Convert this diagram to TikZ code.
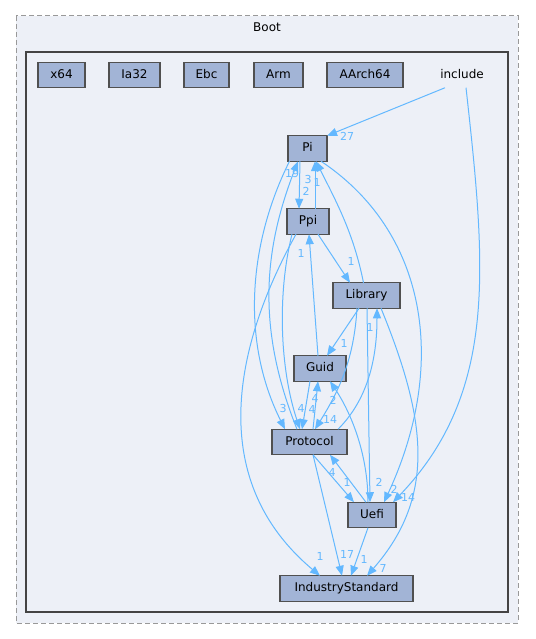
\documentclass[tikz,border=0pt]{standalone}
\usepackage{fontspec}
\setmainfont{DejaVu Sans}
\usetikzlibrary{arrows.meta}
\definecolor{dirfill}{HTML}{A2B4D6}
\definecolor{dirdraw}{HTML}{505050}
\definecolor{clusterfill}{HTML}{EDF0F7}
\definecolor{framegray}{HTML}{444444}
\definecolor{dashgray}{HTML}{999999}
\definecolor{depblue}{HTML}{63B8FF}
\begin{document}
\begin{tikzpicture}[x=1pt,y=-1pt,inner sep=0pt,outer sep=0pt,
dirbox/.style={draw=dirdraw,fill=dirfill,rectangle,line width=1.2pt,minimum height=25.5pt,text height=8.8pt,text depth=2.5pt,font=\fontsize{12}{14}\selectfont},
dirtext/.style={rectangle,minimum height=25.5pt,text height=8.8pt,text depth=2.5pt,font=\fontsize{12}{14}\selectfont},
dep/.style={draw=depblue,line width=1pt,-{Triangle[length=10pt,width=8pt]}},
deplbl/.style={text=depblue,font=\fontsize{11}{13}\selectfont}]

\useasboundingbox (0,0) rectangle (535,639);
\draw[dashgray,fill=clusterfill,line width=1pt,dash pattern=on 5pt off 3pt] (16,16) rectangle (518,623);
\draw (267,28) node[dirtext,minimum height=0pt] (boot) {Boot};
\draw[framegray,fill=clusterfill,line width=2pt] (26,52) rectangle (508,612);

\draw (61.5,75) node[dirbox,minimum width=47pt] (x64) {x64};
\draw (134.5,75) node[dirbox,minimum width=51pt] (ia32) {Ia32};
\draw (206.5,75) node[dirbox,minimum width=45pt] (ebc) {Ebc};
\draw (278.5,75) node[dirbox,minimum width=49pt] (arm) {Arm};
\draw (365,75) node[dirbox,minimum width=76pt] (aarch64) {AArch64};
\draw (462,75) node[dirtext] (include) {include};
\draw (307.5,148.5) node[dirbox,minimum width=39pt] (pi) {Pi};
\draw (308,221.5) node[dirbox,minimum width=42pt] (ppi) {Ppi};
\draw (366.5,295.5) node[dirbox,minimum width=67pt] (library) {Library};
\draw (320,368.5) node[dirbox,minimum width=52pt] (guid) {Guid};
\draw (309.5,442) node[dirbox,minimum width=75pt] (protocol) {Protocol};
\draw (372,515) node[dirbox,minimum width=48pt] (uefi) {Uefi};
\draw (346.5,588.5) node[dirbox,minimum width=133pt] (industry) {IndustryStandard};

\draw[dep] ([xshift=-17pt]include.south) -- (pi.north east) node[deplbl,shift={(20,1)}] {27};
\draw[dep] ([xshift=4pt]include.south) .. controls +(20,180) and +(105,-110) .. ([xshift=21pt]uefi.north) node[deplbl,shift={(15,-5)}] {14};

\draw[dep] ([xshift=-7.5pt]pi.south) -- ([xshift=-9pt]ppi.north) node[deplbl,shift={(7,-17)}] {2};
\draw[dep] ([xshift=1.5pt]pi.south west) .. controls +(-40,80) and +(-45,-90) .. ([xshift=13pt]protocol.north west) node[deplbl,shift={(-2,-21)}] {3};
\draw[dep] ([xshift=13.5pt]pi.south) .. controls +(105,70) and +(65,-140) .. ([xshift=12pt]uefi.north) node[deplbl,shift={(10,-13)}] {2};

\draw[dep] ([xshift=7pt]ppi.north) -- ([xshift=7.5pt]pi.south) node[deplbl,shift={(-7,18)}] {3};
\draw[dep] ([xshift=10pt]ppi.south) -- ([xshift=-16.5pt]library.north) node[deplbl,shift={(1,-21)}] {1};
\draw[dep] ([xshift=-16pt]ppi.south) .. controls +(-15,60) and +(-20,-60) .. ([xshift=-9.5pt]protocol.north) node[deplbl,shift={(1,-21)}] {4};
\draw[dep] ([xshift=-12pt]ppi.south) .. controls +(-50,90) and +(-125,-105) .. ([xshift=-26.5pt]industry.north) node[deplbl,shift={(0,-19)}] {1};

\draw[dep] ([xshift=-3pt]library.north) .. controls +(-10,-50) and +(20,40) .. ([xshift=8.5pt]pi.south) node[deplbl,shift={(1,21)}] {1};
\draw[dep] ([xshift=-7.5pt]library.south) -- ([xshift=7pt]guid.north) node[deplbl,shift={(17,-12)}] {1};
\draw[dep] ([xshift=-9.5pt]library.south) .. controls +(-3,50) and +(25,-40) .. ([xshift=5.5pt]protocol.north) node[deplbl,shift={(15,-10)}] {14};
\draw[dep] ([xshift=0.5pt]library.south) -- ([xshift=-2pt]uefi.north) node[deplbl,shift={(9,-20)}] {2};
\draw[dep] ([xshift=14.5pt]library.south) .. controls +(45,110) and +(70,-80) .. ([xshift=20.5pt]industry.north) node[deplbl,shift={(16,-7)}] {7};

\draw[dep] ([xshift=-2pt]guid.north) -- ([xshift=1pt]ppi.south) node[deplbl,shift={(-8,19)}] {1};
\draw[dep] ([xshift=-10pt]guid.south) -- ([xshift=-7.5pt]protocol.north) node[deplbl,shift={(10,-20)}] {4};

\draw[dep] ([xshift=-12.5pt]protocol.north) .. controls +(-40,-100) and +(-35,90) .. ([xshift=-9.5pt]pi.south) node[deplbl,shift={(-6,12)}] {19};
\draw[dep] ([xshift=3.5pt]protocol.north) -- ([xshift=-2pt]guid.south) node[deplbl,shift={(-3,17)}] {4};
\draw[dep] ([xshift=28.5pt]protocol.north) .. controls +(30,-30) and +(0,50) .. ([xshift=10.5pt]library.south) node[deplbl,shift={(-7,19)}] {1};
\draw[dep] ([xshift=3.5pt]protocol.south) -- ([xshift=-18pt]uefi.north) node[deplbl,shift={(-7,-20)}] {1};
\draw[dep] ([xshift=3.5pt]protocol.south) -- ([xshift=-4.5pt]industry.north) node[deplbl,shift={(5,-21)}] {17};

\draw[dep] ([xshift=-4pt]uefi.north) .. controls +(0,-50) and +(20,30) .. ([xshift=10pt]guid.south) node[deplbl,shift={(3,19)}] {2};
\draw[dep] ([xshift=-6pt]uefi.north) -- ([xshift=20.5pt]protocol.south) node[deplbl,shift={(2,18)}] {4};
\draw[dep] ([xshift=-4pt]uefi.south) -- ([xshift=4.5pt]industry.north) node[deplbl,shift={(13,-16)}] {1};

\end{tikzpicture}
\end{document}
